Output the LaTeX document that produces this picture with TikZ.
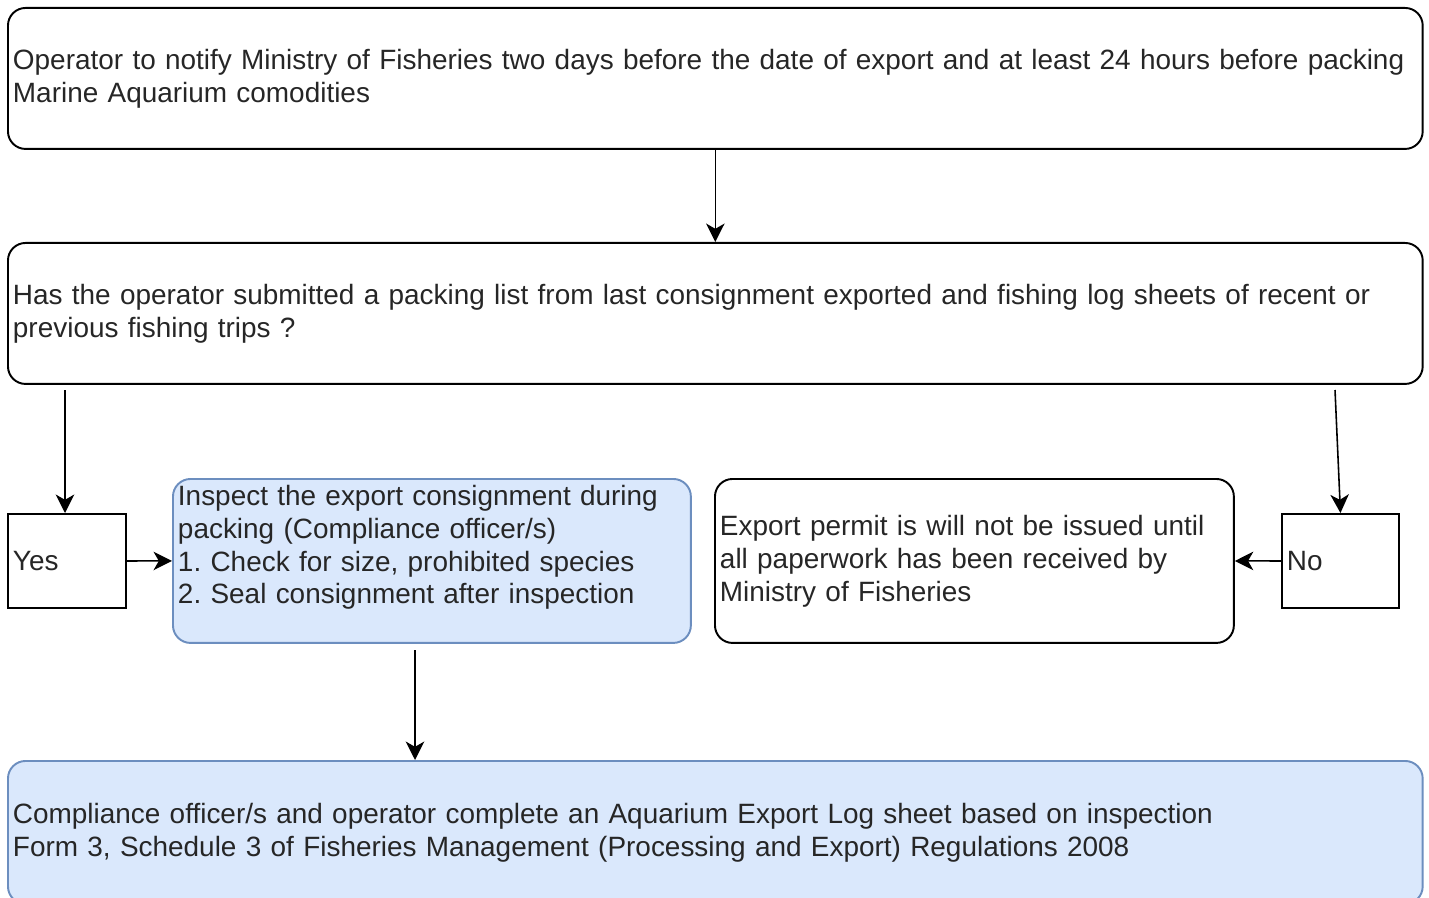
\documentclass[tikz,border=0pt]{standalone}
\usepackage{fontspec}
\setmainfont{Liberation Sans}
\usetikzlibrary{arrows.meta}
\definecolor{boxblue}{HTML}{DAE8FC}
\definecolor{boxblueline}{HTML}{6C8EBF}
\frenchspacing
\begin{document}
\begin{tikzpicture}[x=0.02cm, y=-0.02cm,
    every node/.style={font=\fontsize{15.9pt}{18.7pt}\selectfont, text=black!85},
    flowbox/.style={draw, line width=1.1pt, rounded corners=10pt, anchor=north west,
        align=left, inner xsep=0.1cm, inner ysep=0pt},
    bluebox/.style={flowbox, draw=boxblueline, fill=boxblue},
    answerbox/.style={draw, line width=1.1pt, anchor=north west, align=left,
        inner xsep=0.1cm, minimum height=1.88cm},
    flowarrow/.style={line width=0.9pt, -{Stealth[length=10.5pt, width=10.5pt, inset=3pt]}}
  ]
            \useasboundingbox (0,0) rectangle (1429,898);

            \node[flowbox, minimum width=28.3cm, minimum height=2.82cm, text width=28.1cm] (notify) at (7,7)
                {Operator to notify Ministry of Fisheries two days before the date of export and at least 24 hours before packing\\Marine Aquarium comodities};
            \node[flowbox, minimum width=28.3cm, minimum height=2.82cm, text width=28.1cm] (question) at (7,242)
                {Has the operator submitted a packing list from last consignment exported and fishing log sheets of recent or\\previous fishing trips ?};

            \node[answerbox, minimum width=2.36cm, text width=2.16cm] (yes) at (7,513) {Yes};
            \node[answerbox, minimum width=2.34cm, text width=2.14cm] (no) at (1281,513) {No};

            \node[bluebox, minimum width=10.36cm, minimum height=3.28cm, text width=10.16cm] (inspect) at (172,478)
                {Inspect the export consignment during\\packing (Compliance officer/s)\\1. Check for size, prohibited species\\2. Seal consignment after inspection\\~};
            \node[flowbox, minimum width=10.38cm, minimum height=3.28cm, text width=10.18cm] (permit) at (714,478)
                {Export permit is will not be issued until\\all paperwork has been received by\\Ministry of Fisheries};

            \node[bluebox, minimum width=28.3cm, minimum height=2.86cm, text width=28.1cm] (log) at (7,760)
                {Compliance officer/s and operator complete an Aquarium Export Log sheet based on inspection\\Form 3, Schedule 3 of Fisheries Management (Processing and Export) Regulations 2008};

            \coordinate (yesstart) at (65,390);
            \coordinate (nostart) at (1335,390);
            \coordinate (inspectend) at (415,650);

            \draw[flowarrow] (notify) -- (question);
            \draw[flowarrow] (yesstart) -- (yesstart |- yes.north);
            \draw[flowarrow] (nostart) -- (no.north);
            \draw[flowarrow] (yes) -- (inspect);
            \draw[flowarrow] (no) -- (permit);
            \draw[flowarrow] (inspectend) -- (inspectend |- log.north);
\end{tikzpicture}
\end{document}
